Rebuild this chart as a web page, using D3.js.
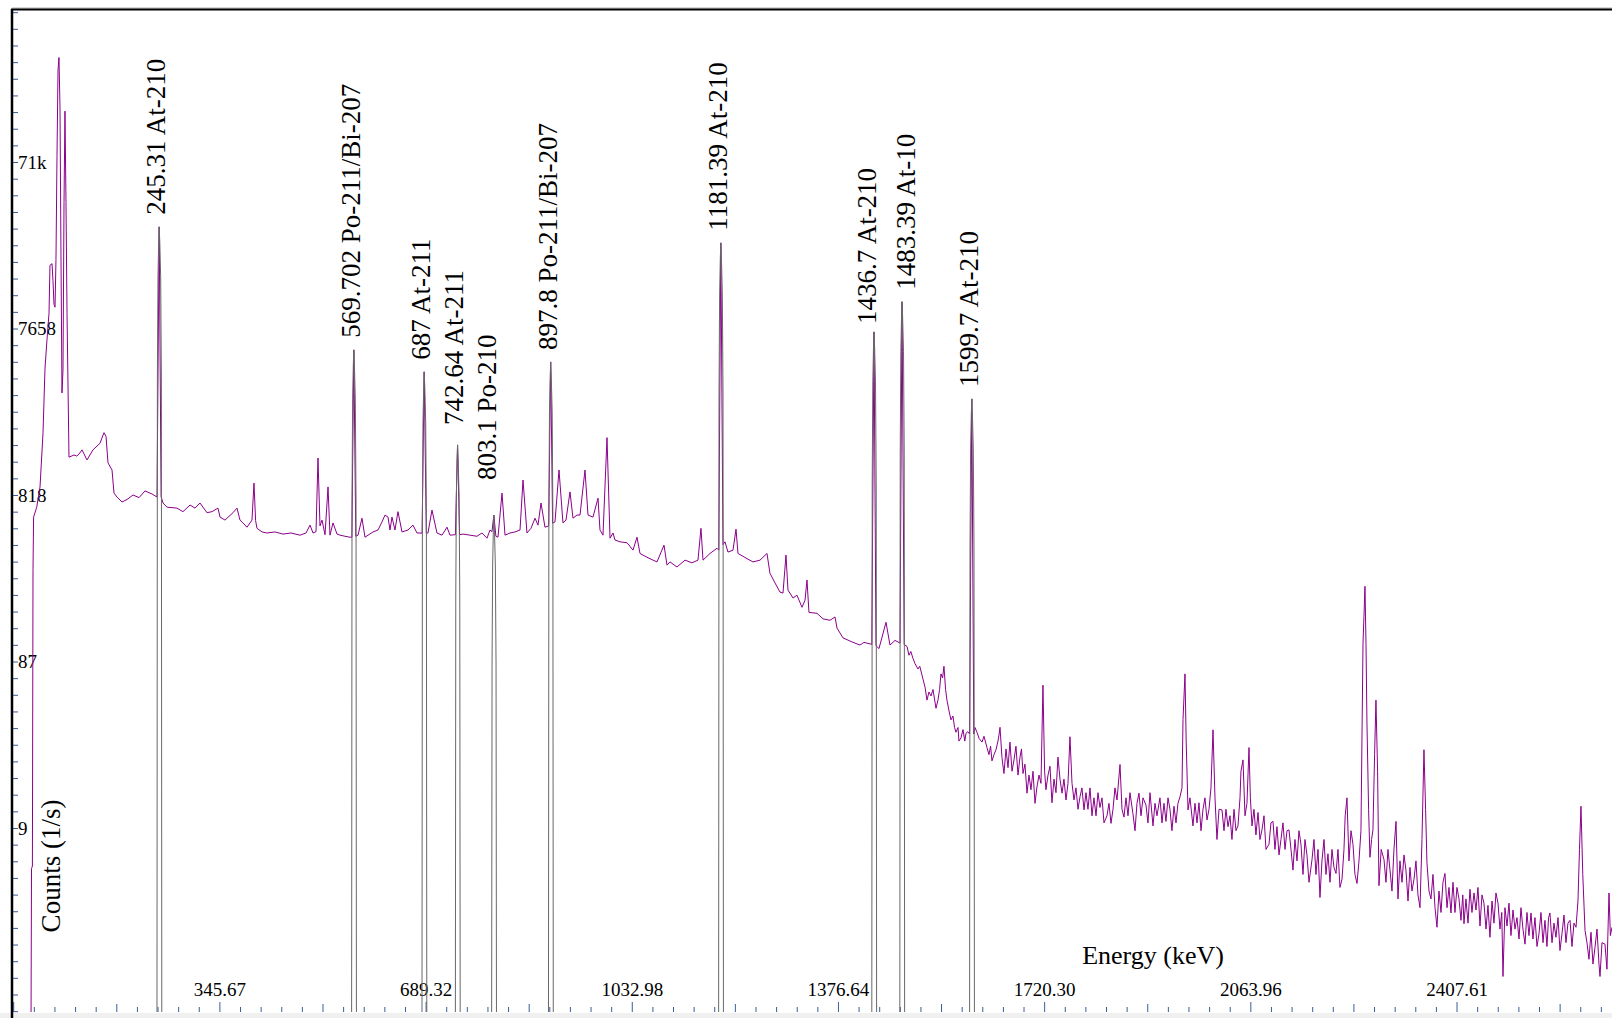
<!DOCTYPE html>
<html>
<head>
<meta charset="utf-8">
<script src="https://cdnjs.cloudflare.com/ajax/libs/d3/7.8.5/d3.min.js"></script>
<style>
body{margin:0;background:#fff;}
svg{display:block;font-family:"Liberation Serif","Times New Roman",serif;}
</style>
</head>
<body>
<div id="chart"></div>
<script>
// spectrum: [energy keV, counts 1/s]
var spectrum=[
[31.5,0.4],[32.5,5.4],[34.0,5.6],[35.0,300],[36.0,608],[41.2,695],[46.7,912],[51.7,1890],[55.0,4500],[58.3,6575],[61.7,9400],[63.3,17900],[66.7,18300],[68.3,14600],[70.0,10600],[71.7,10200],[73.3,19300],[75.0,77400],[76.7,247000],[78.3,292000],[80.0,150000],[81.7,18800],[83.3,3220],[85.0,4390],[86.7,41700],[88.3,142000],[90.0,41700],[91.7,9400],[95.0,1360],
[103.3,1400],[108,1380],[111.7,1420],[116.7,1500],[125,1310],[135,1500],[146.7,1640],[153.3,1890],[156.7,1800],[160,1260],[166.7,1145],[170,840],[175,796],[183.3,745],[191.7,770],[201.7,818],[211.7,790],[221.7,864],[233.3,830],[241.7,796],[245.3,30000],[248.5,800],
[251.7,735],[258.3,695],[275,686],[285,654],[296.7,715],[305,686],[313.3,735],[318.3,695],[325,645],[333.3,654],[343.3,686],[346.7,608],[355,584],[368.3,645],[375,686],[380,584],[385,562],[391.7,531],[400,584],[403.3,960],[406,580],[408.3,523],[416.7,498],[425,491],[438.3,498],[451.7,484],[465,491],[480,477],[490,491],[496.7,546],[501.7,491],[506.7,500],[510,1345],[513.3,540],[516.7,584],[521.7,480],[526.7,912],[530,477],[535,562],[541.7,484],[546.7,477],[555,470],[563.3,464],[566.5,464],[569.7,5750],[573,470],[576.7,477],
[583.3,599],[588.3,464],[601.7,498],[610,511],[616.7,570],[621.7,625],[626.7,608],[630,511],[633.3,608],[638.3,511],[643.3,654],[650,498],[660,511],[668.3,546],[675,491],[680,491],[683.5,490],[687,4280],[690.5,490],[693.3,491],[700,668],[708.3,491],[716.7,477],[725,531],[730,477],[739,480],[742.6,1603],[746,480],[751.7,484],[763.3,477],[775,470],[783.3,491],[791.7,458],[796.7,511],[800,500],[803.1,625],[806.5,470],[810,464],[816.7,840],[821.7,477],[830,491],[838.3,498],[846.7,511],[851.7,1001],[858.3,491],[865,523],[871.7,599],[876.7,546],[881.7,735],[888.3,531],[894.5,540],[897.8,4890],[901,560],[905,570],
[911.7,1145],[918.3,562],[923.3,584],[930,853],[935,599],[941.7,625],[946.7,625],[955,1145],[960,625],[968.3,608],[976.7,784],[980,511],[985,477],[991.7,1768],[996.7,458],[1001.7,491],[1005,447],[1013.3,436],[1025,431],[1035,390],[1041.7,464],[1046.7,373],[1060,352],[1075,333],[1086.7,417],[1091.7,319],[1096.7,333],[1108.3,311],[1121.7,341],[1133.3,329],[1143.3,341],[1148.3,523],[1151.7,341],[1163.3,373],[1175,400],[1178,390],[1181.4,24200],[1185,420],[1188.3,436],[1193.3,380],[1201.7,390],[1206.7,517],[1210,373],[1225,348],[1235,333],[1246.7,341],[1258.3,373],[1263.3,286],[1271.7,251],[1280,222],[1285,219],[1290,365],[1293.3,228],[1301.7,205],[1308.3,213],[1316.7,181],[1321.7,199],[1325,261],[1328.3,169],[1341.7,167],[1351.7,155],[1363.3,152],[1371.7,159],[1375,137],[1385,120],[1401.7,113],[1413.3,109],[1420,113],[1433,110],[1436.7,7320],[1440,108],[1445,104],[1456.7,148],[1463.3,109],[1471.7,116],[1480,112],[1483.4,10970],[1487,110],[1491.7,107],
[1495,95],[1498,100],[1501.7,91],[1505,85],[1510,79],[1513,82],[1518.3,69],[1521.7,62],[1525,52],[1528.3,58],[1531.7,55],[1535,60],[1540,46.6],[1543.3,52],[1546,60],[1548.3,74],[1551,70],[1553.3,82],[1556,60],[1558.3,52],[1561.7,45],[1565,39.9],[1568.3,42],[1571,36],[1573.3,33.8],[1576.7,36],[1578.3,30],[1581.7,31.3],[1585,35],[1588,30],[1590,33.3],[1593,34],[1596,33],[1599.7,2975],[1603,33],[1605,36],[1608.3,33.8],[1612,31],[1616.7,29.6],[1620,32],[1625,27.5],[1628.3,25],[1631,28],[1633.3,23.0],[1636.7,25],[1640,26.7],[1643.3,30],[1645,32.5],[1646.7,36.1],
[1650,24],[1653.3,19.4],[1656.7,27],[1660,21],[1663.3,29.6],[1666.7,20],[1670,23.3],[1673.3,28],[1676.7,19],[1680,24.2],[1682.5,27],[1685,19.4],[1688.3,22],[1691.7,14.9],[1695,19],[1698.3,15.6],[1701.7,20],[1705,13],[1708.3,16.2],[1711.7,19],[1715,17.0],[1718.3,63.6],[1721,20],[1723.3,15.6],[1726.7,19],[1730,21.4],[1733.3,13.1],[1736.7,18],[1740,15],[1743.3,24.2],[1746.7,18],[1750,14.9],[1753.3,18],[1756.7,13.6],[1760,17],[1763.3,31.8],[1766.7,17],[1770,13.6],[1773.3,16],[1776.7,12],[1780,14.2],[1783.3,16],[1786.7,11.9],[1790,15],[1793.3,12],[1796.7,16],[1800,11],[1803.3,14.0],[1806.7,11],[1810,15],[1813.3,12.3],[1816.7,14],[1820,10],[1825,11.0],[1828.3,13],[1831.7,9.93],[1835,12],[1838.3,16],[1841.7,13.6],[1846.7,21.9],[1850,12],[1853.3,10.8],[1856.7,14],[1860,11],[1863.3,15],[1868.3,11.3],[1871.7,9],[1875,13],[1878.3,14.9],[1881.7,11],[1885,14],[1890,12.7],[1893.3,10],[1896.7,15],[1901.7,9.6],[1905,13],[1908.3,11],[1913.3,14.0],[1916.7,10],[1920,13],[1923.3,10.2],[1926.7,14],[1930,12],[1933.3,9],[1936.7,12.5],[1940,10],[1943.3,13],[1946.7,14.2],[1950,16],[1951.7,40],[1955,74],[1957,30],[1960,11.9],[1963.3,14],[1968.3,9.6],[1971.7,13],[1975,10],[1978.3,13.1],[1981.7,9],[1985,12],[1988.3,14],[1991.7,10.4],[1995,12],[1998.3,16],[2001.7,34.9],[2005,14],[2008.3,8.0],[2011.7,12],[2016.7,11.9],[2020,9],[2023.3,12],[2026.7,9.5],[2030,11.0],[2033.3,8],[2036.7,12],[2040,9],[2043.3,9.6],[2046.7,14],[2048.3,20],[2051.7,23.3],[2055,11],[2058.3,13],[2061.7,27.5],[2064,14],[2066.7,9.6],[2070,12],[2073.3,8.5],[2076.7,11.5],[2080,8],[2083.3,9.1],[2086.7,11],[2090,7],[2095,7.5],[2098.3,10],[2101.7,10.2],[2105,7],[2108.3,9.5],[2111.7,6.5],[2115,8.0],[2118.3,10],[2121.7,7],[2125,9],[2128.3,9.1],[2131.7,7],[2135,5.3],[2138.3,8],[2141.7,6],[2145,9],[2148.3,7.5],[2151.7,5],[2155,8],[2158.3,6.5],[2161.7,4.5],[2166.7,6.1],[2170,8],[2173.3,5],[2176.7,7],[2180,3.67],[2183.3,6],[2186.7,8],[2190,5],[2193.3,6.6],[2196.7,4.5],[2200,7],[2203.3,5.5],[2206.7,5.07],[2210,7],[2213.3,4.2],[2216.7,4.69],[2220,7],[2222,11],[2225,14.0],[2228.3,6],[2231.7,9],[2235,7.5],[2238.3,5],[2241.7,4.43],[2245,6],[2248.3,9],[2251.7,112],[2253.3,160],[2255,240],[2256.7,110],[2258.3,38.2],[2261,12],[2263.3,6.3],[2266,8],[2268.3,9.1],[2271,25],[2273.3,52],[2276,20],[2278.3,4.3],[2282,7],[2286.7,6.1],[2290,4.5],[2293.3,7],[2296.7,5.3],[2300,4],[2303.3,7],[2306.7,10.2],[2310,3.6],[2313.3,6],[2316.7,4.5],[2320,6.5],[2323.3,5.3],[2326.7,3.5],[2330,5.5],[2333.3,4],[2336.7,4.69],[2340,6],[2343.3,3.8],[2346.7,3.2],[2350,8],[2353.3,26.7],[2356,12],[2358.3,5.85],[2361.7,4],[2365,3.6],[2368.3,5],[2371.7,3.2],[2375,2.46],[2378.3,4],[2381.7,3],[2385,4.5],[2388.3,5.07],[2391.7,3.2],[2395,4.2],[2398.3,2.98],[2401.7,4.5],[2405,3],[2408.3,4.2],[2411.7,3.6],[2415,2.7],[2418,3.8],[2420,2.58],[2423.3,3.6],[2426.7,2.6],[2430,4.1],[2433.3,3],[2436.7,3.9],[2440,3.1],[2443.3,4.2],[2446.7,2.5],[2450,3.8],[2453.3,3.4],[2456.7,2.4],[2460,3.3],[2463.3,2.15],[2466.7,3.5],[2470,2.6],[2473.3,3.9],[2476.7,3.4],[2480,2.4],[2483,3],[2485,1.27],[2488.3,3.2],[2491.7,2.5],[2495,3.4],[2498.3,2.2],[2501.7,3.1],[2505,2.4],[2508.3,2.8],[2511.7,2.1],[2515,3.2],[2518.3,2.4],[2521.7,1.96],[2525,3],[2528.3,2.2],[2531.7,2.98],[2535,2.1],[2538.3,2.8],[2541.7,1.9],[2545,2.25],[2548.3,3],[2551.7,2],[2555,2.7],[2558.3,1.9],[2561,2.8],[2563.3,2.98],[2566.7,2.0],[2570,2.6],[2573.3,2.15],[2576.7,2.8],[2580,1.8],[2583.3,2.25],[2586.7,2.9],[2590,2.0],[2593.3,2.6],[2596.7,2.7],[2600,1.9],[2603.3,2.6],[2606.7,2.46],[2610,3.5],[2612.5,7],[2615,12.5],[2618,5],[2621.7,2.36],[2625,2.0],[2628.3,1.6],[2631.7,2.3],[2635,1.5],[2638.3,1.87],[2641.7,2.4],[2645,1.5],[2646.7,1.27],[2650,2.0],[2655,1.96],[2658.3,1.4],[2661.7,3.9],[2664,2.2],[2666.7,2.46]
];

// identified peaks
var peakEnergies=[245.31,569.702,687,742.64,803.1,897.8,1181.39,1436.7,1483.39,1599.7];
var peakHeights=[30000,5750,4280,1603,625,4890,24200,7320,10970,2975];
var peakLabels=['245.31 At-210','569.702 Po-211/Bi-207','687 At-211','742.64 At-211','803.1 Po-210','897.8 Po-211/Bi-207','1181.39 At-210','1436.7 At-210','1483.39 At-10','1599.7 At-210'];

// tick labels
var xTickValues=[345.67,689.32,1032.98,1376.64,1720.30,2063.96,2407.61];
var yTickValues=[9.33,87.4,818,7658,71690];
var yTickLabels=['9','87','818','7658','71k'];

(function(){
var W=1612,H=1018;
var padL=12,padT=10,padB=1012;
// small label nudges (px) where labels were moved apart
var nudge={'803.1 Po-210':[-4,-23],'742.64 At-211':[-1,-8],'1436.7 At-210':[-4,4],'1483.39 At-10':[7,0]};

var svg=d3.select('#chart').append('svg').attr('width',W).attr('height',H);
svg.append('rect').attr('width',W).attr('height',H).attr('fill','#fff');

var x=d3.scaleLinear().domain([0,2666.7]).range([padL,W]);
var y=d3.scaleLog().domain([0.788,552600]).range([padB,padT]);

svg.append('clipPath').attr('id','plot').append('rect')
	.attr('x',padL).attr('y',padT).attr('width',W-padL).attr('height',padB-padT);

// minor ticks
var xStep=(xTickValues[1]-xTickValues[0])/10;
var xMinor=[],xMid=[],xMajor=[];
for(var i=-10;i<=80;i++){
	var v=xTickValues[0]+i*xStep;
	if(v<0||v>2666.7) continue;
	if(i%10===0) xMajor.push(v);
	else if(Math.abs(i%10)===5) xMid.push(v);
	else xMinor.push(v);
}
var yRatio=Math.pow(yTickValues[3]/yTickValues[2],0.1);
var yMinor=[];
for(var j=-60;j<=60;j++){
	var t=yTickValues[2]*Math.pow(yRatio,j);
	if(y(t)>padB+0.5||y(t)<padT) continue;
	yMinor.push(t);
}

var tickColor='#3a5c9c';
function stripDomain(g){g.select('.domain').remove();}

[[xMinor,5],[xMid,8],[xMajor,10]].forEach(function(s){
	svg.append('g').attr('transform','translate(0,'+padB+')')
		.call(d3.axisTop(x).tickValues(s[0]).tickSize(s[1]).tickFormat(''))
		.call(stripDomain)
		.attr('color',tickColor);
});
svg.append('g').attr('transform','translate(0,'+padB+')')
	.call(d3.axisTop(x).tickValues(xTickValues).tickSize(0).tickPadding(16).tickFormat(d3.format('.2f')))
	.call(stripDomain)
	.attr('font-family','"Liberation Serif","Times New Roman",serif')
	.attr('font-size',19)
	.selectAll('text').attr('fill','#000');

svg.append('g').attr('transform','translate('+padL+',0)')
	.call(d3.axisRight(y).tickValues(yMinor).tickSize(6).tickFormat(''))
	.call(stripDomain)
	.attr('color',tickColor);
svg.append('g').attr('transform','translate('+padL+',0)')
	.call(d3.axisRight(y).tickValues(yTickValues).tickSize(0).tickPadding(6)
		.tickFormat(function(d,i){return yTickLabels[i];}))
	.call(stripDomain)
	.attr('font-family','"Liberation Serif","Times New Roman",serif')
	.attr('font-size',19)
	.selectAll('text').attr('fill','#000');

// spectrum
var line=d3.line().x(function(d){return x(d[0]);}).y(function(d){return y(d[1]);});
svg.append('path').datum(spectrum)
	.attr('clip-path','url(#plot)')
	.attr('d',line)
	.attr('fill','none')
	.attr('stroke','#8b008b')
	.attr('stroke-width',1);

// fitted peaks
var fitLine=d3.line();
peakEnergies.forEach(function(e,i){
	var px=x(e),py=y(peakHeights[i]);
	var pts=[[px-2.2,padB],[px-1.8,Math.min(py+150,padB)],[px-1.2,py+50],[px-0.5,py+15],[px,py],
		[px+0.6,py+15],[px+1.5,py+50],[px+2.2,Math.min(py+150,padB)],[px+2.6,padB]];
	svg.append('path').attr('d',fitLine(pts))
		.attr('clip-path','url(#plot)')
		.attr('fill','none').attr('stroke','#686868').attr('stroke-width',1);
	var n=nudge[peakLabels[i]]||[0,0];
	svg.append('text')
		.attr('transform','translate('+(px+6+n[0])+','+(py-12+n[1])+') rotate(-90)')
		.attr('font-size',27)
		.attr('fill','#000')
		.text(peakLabels[i]);
});

// axis titles
svg.append('text').attr('x',1153).attr('y',964).attr('text-anchor','middle')
	.attr('font-size',26).text('Energy (keV)');
svg.append('text').attr('transform','translate(60,866) rotate(-90)').attr('text-anchor','middle')
	.attr('font-size',27).text('Counts (1/s)');

// frame
svg.append('rect').attr('x',0).attr('y',padB+1).attr('width',W).attr('height',H-padB-1).attr('fill','#f0f0f0');
svg.append('line').attr('x1',padL).attr('x2',W).attr('y1',8).attr('y2',8).attr('stroke','#b0b0b0').attr('stroke-width',1);
svg.append('line').attr('x1',padL-1).attr('x2',W).attr('y1',9.5).attr('y2',9.5).attr('stroke','#000').attr('stroke-width',2);
svg.append('line').attr('x1',padL).attr('x2',padL).attr('y1',9).attr('y2',H).attr('stroke','#000').attr('stroke-width',2.5);
})();
</script>
</body>
</html>
